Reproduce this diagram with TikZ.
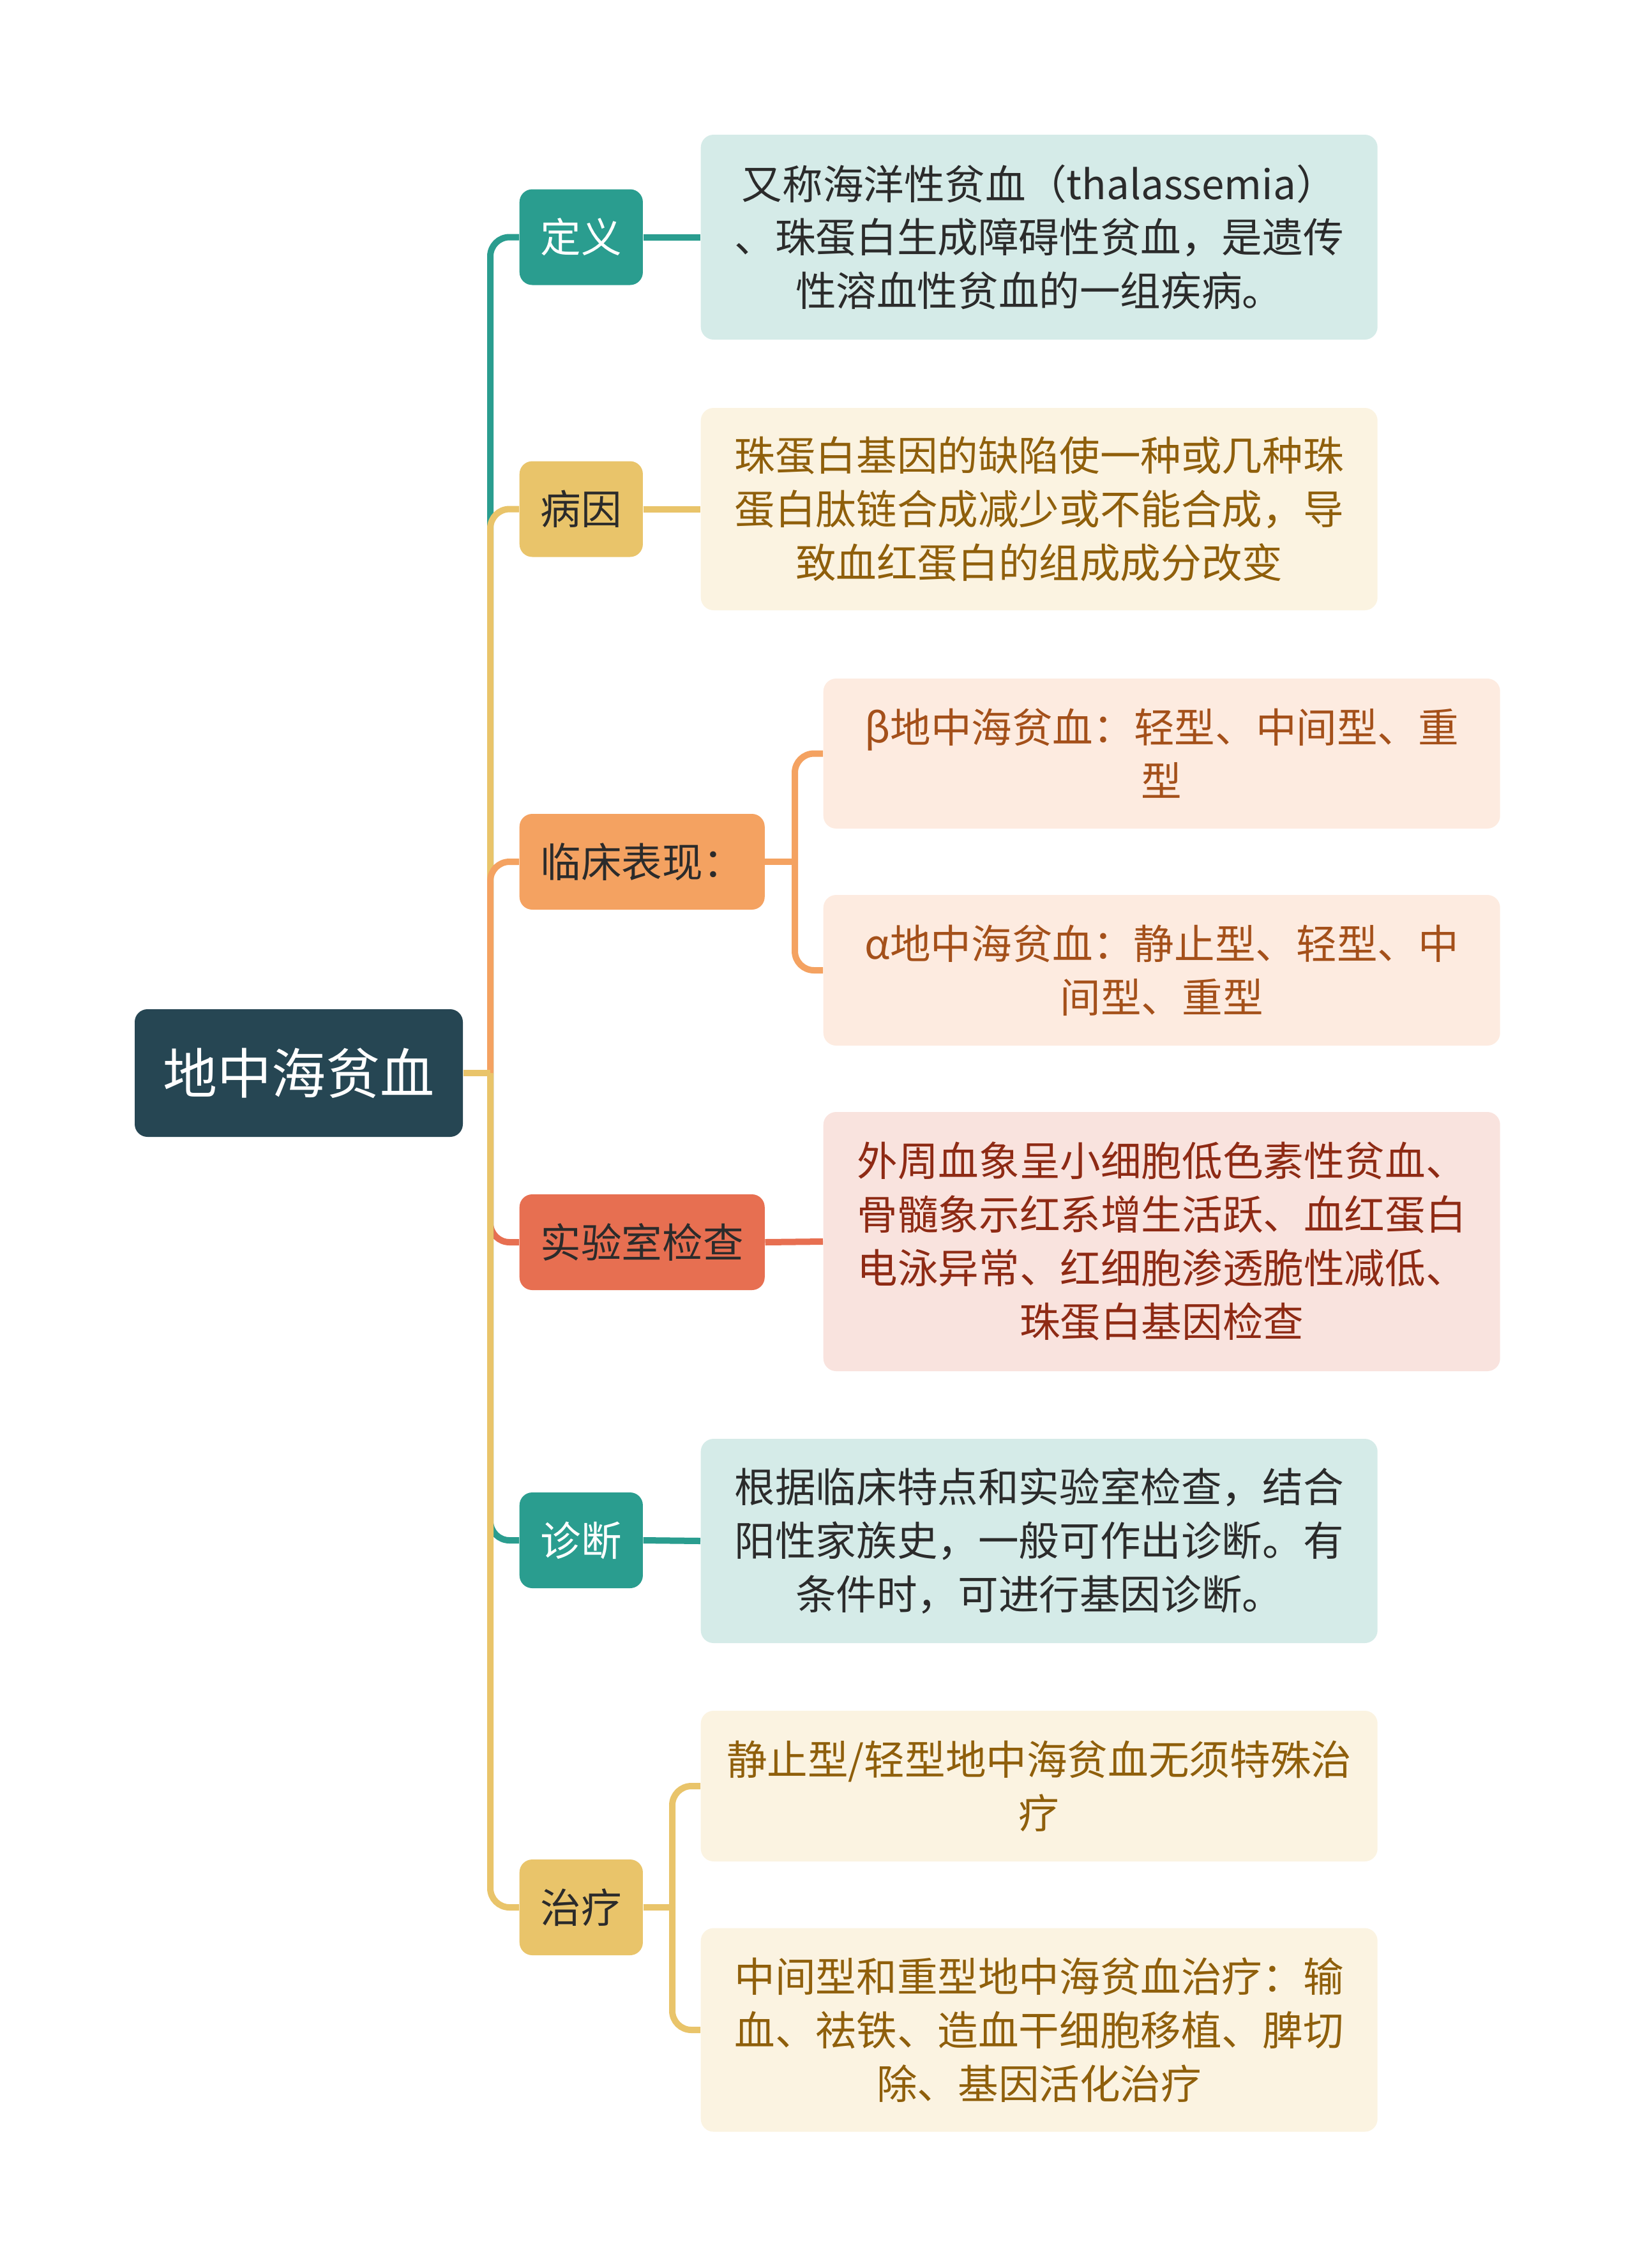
\documentclass[tikz,border=0pt]{standalone}
\usepackage{fontspec}
\setmainfont{Noto Sans CJK SC}
\usepackage{tikz}
\usepackage{xcolor}
\usetikzlibrary{positioning, calc}

\definecolor{navy}{HTML}{264653}
\definecolor{teal}{HTML}{2A9D8F}
\definecolor{tealL}{HTML}{D5EBE8}
\definecolor{gold}{HTML}{E9C46A}
\definecolor{goldL}{HTML}{FBF3E1}
\definecolor{goldT}{HTML}{8F5F0B}
\definecolor{orng}{HTML}{F4A261}
\definecolor{orngL}{HTML}{FDEBE0}
\definecolor{orngT}{HTML}{A4501A}
\definecolor{redd}{HTML}{E76F51}
\definecolor{reddL}{HTML}{F9E3DE}
\definecolor{reddT}{HTML}{8E2A14}
\definecolor{ink}{HTML}{2B2B2B}

\begin{document}
\begin{tikzpicture}[
    rootnode/.style={fill=navy, text=white, rounded corners=0.2cm, minimum width=5.14cm, minimum height=2cm, font={\fontsize{24.2pt}{28pt}\selectfont}},
    topic/.style={anchor=west, rounded corners=0.2cm, inner xsep=0.33cm, minimum height=1.5cm, font={\fontsize{18.1pt}{23.9pt}\selectfont}},
    leaf/.style={anchor=west, rounded corners=0.2cm, minimum width=10.6cm, align=center, font={\fontsize{18.1pt}{23.9pt}\selectfont}},
    branch/.style={line width=0.1cm, rounded corners=0.3cm}
  ]
    \useasboundingbox (0,0) rectangle (25.6,-35.53);

    % Root
    \node[rootnode] (root) at (4.68,-16.81) {地中海贫血};

    % Main topics
    \node[topic, fill=teal, text=white] (def)   at (8.13,-3.715)  {定义};
    \node[topic, fill=gold, text=ink]   (cause) at (8.13,-7.975)  {病因};
    \node[topic, fill=orng, text=ink]   (clin)  at (8.13,-13.50)  {临床表现：};
    \node[topic, fill=redd, text=ink]   (lab)   at (8.13,-19.46)  {实验室检查};
    \node[topic, fill=teal, text=white] (diag)  at (8.13,-24.13)  {诊断};
    \node[topic, fill=gold, text=ink]   (treat) at (8.13,-29.88)  {治疗};

    % Detail boxes
    \node[leaf, fill=tealL, text=ink, minimum height=3.21cm] (defbox) at (10.97,-3.715)
        {又称海洋性贫血（thalassemia）\\、珠蛋白生成障碍性贫血，是遗传\\性溶血性贫血的一组疾病。};
    \node[leaf, fill=goldL, text=goldT, minimum height=3.17cm] (causebox) at (10.97,-7.975)
        {珠蛋白基因的缺陷使一种或几种珠\\蛋白肽链合成减少或不能合成，导\\致血红蛋白的组成成分改变};
    \node[leaf, fill=orngL, text=orngT, minimum height=2.35cm] (beta) at (12.89,-11.805)
        {β地中海贫血：轻型、中间型、重\\型};
    \node[leaf, fill=orngL, text=orngT, minimum height=2.36cm] (alpha) at (12.89,-15.20)
        {α地中海贫血：静止型、轻型、中\\间型、重型};
    \node[leaf, fill=reddL, text=reddT, minimum height=4.06cm] (labbox) at (12.89,-19.45)
        {外周血象呈小细胞低色素性贫血、\\骨髓象示红系增生活跃、血红蛋白\\电泳异常、红细胞渗透脆性减低、\\珠蛋白基因检查};
    \node[leaf, fill=tealL, text=ink, minimum height=3.20cm] (diagbox) at (10.97,-24.14)
        {根据临床特点和实验室检查，结合\\阳性家族史，一般可作出诊断。有\\条件时，可进行基因诊断。};
    \node[leaf, fill=goldL, text=goldT, minimum height=2.36cm] (mild) at (10.97,-27.98)
        {静止型/轻型地中海贫血无须特殊治\\疗};
    \node[leaf, fill=goldL, text=goldT, minimum height=3.19cm] (severe) at (10.97,-31.80)
        {中间型和重型地中海贫血治疗：输\\血、祛铁、造血干细胞移植、脾切\\除、基因活化治疗};

    % Junction points
    \coordinate (hub) at (7.68,-16.81);
    \coordinate (clinhub) at (12.45,-13.50);
    \coordinate (treathub) at (10.53,-29.88);

    % Trunk branches
    \draw[branch, teal] (hub) |- (def.west);
    \draw[branch, gold] (hub) |- (cause.west);
    \draw[branch, orng] (hub) |- (clin.west);
    \draw[branch, redd] (hub) |- (lab.west);
    \draw[branch, teal] (hub) |- (diag.west);
    \draw[branch, gold] (hub) |- (treat.west);
    \draw[branch, gold] (root.east) -- (hub);

    % Topic to detail
    \draw[branch, teal] (def.east) -- (defbox.west);
    \draw[branch, gold] (cause.east) -- (causebox.west);
    \draw[branch, orng] (clin.east) -- (clinhub);
    \draw[branch, orng] (clinhub) |- (beta.west);
    \draw[branch, orng] (clinhub) |- (alpha.west);
    \draw[branch, redd] (lab.east) -- (labbox.west);
    \draw[branch, teal] (diag.east) -- (diagbox.west);
    \draw[branch, gold] (treat.east) -- (treathub);
    \draw[branch, gold] (treathub) |- (mild.west);
    \draw[branch, gold] (treathub) |- (severe.west);

\end{tikzpicture}
\end{document}
